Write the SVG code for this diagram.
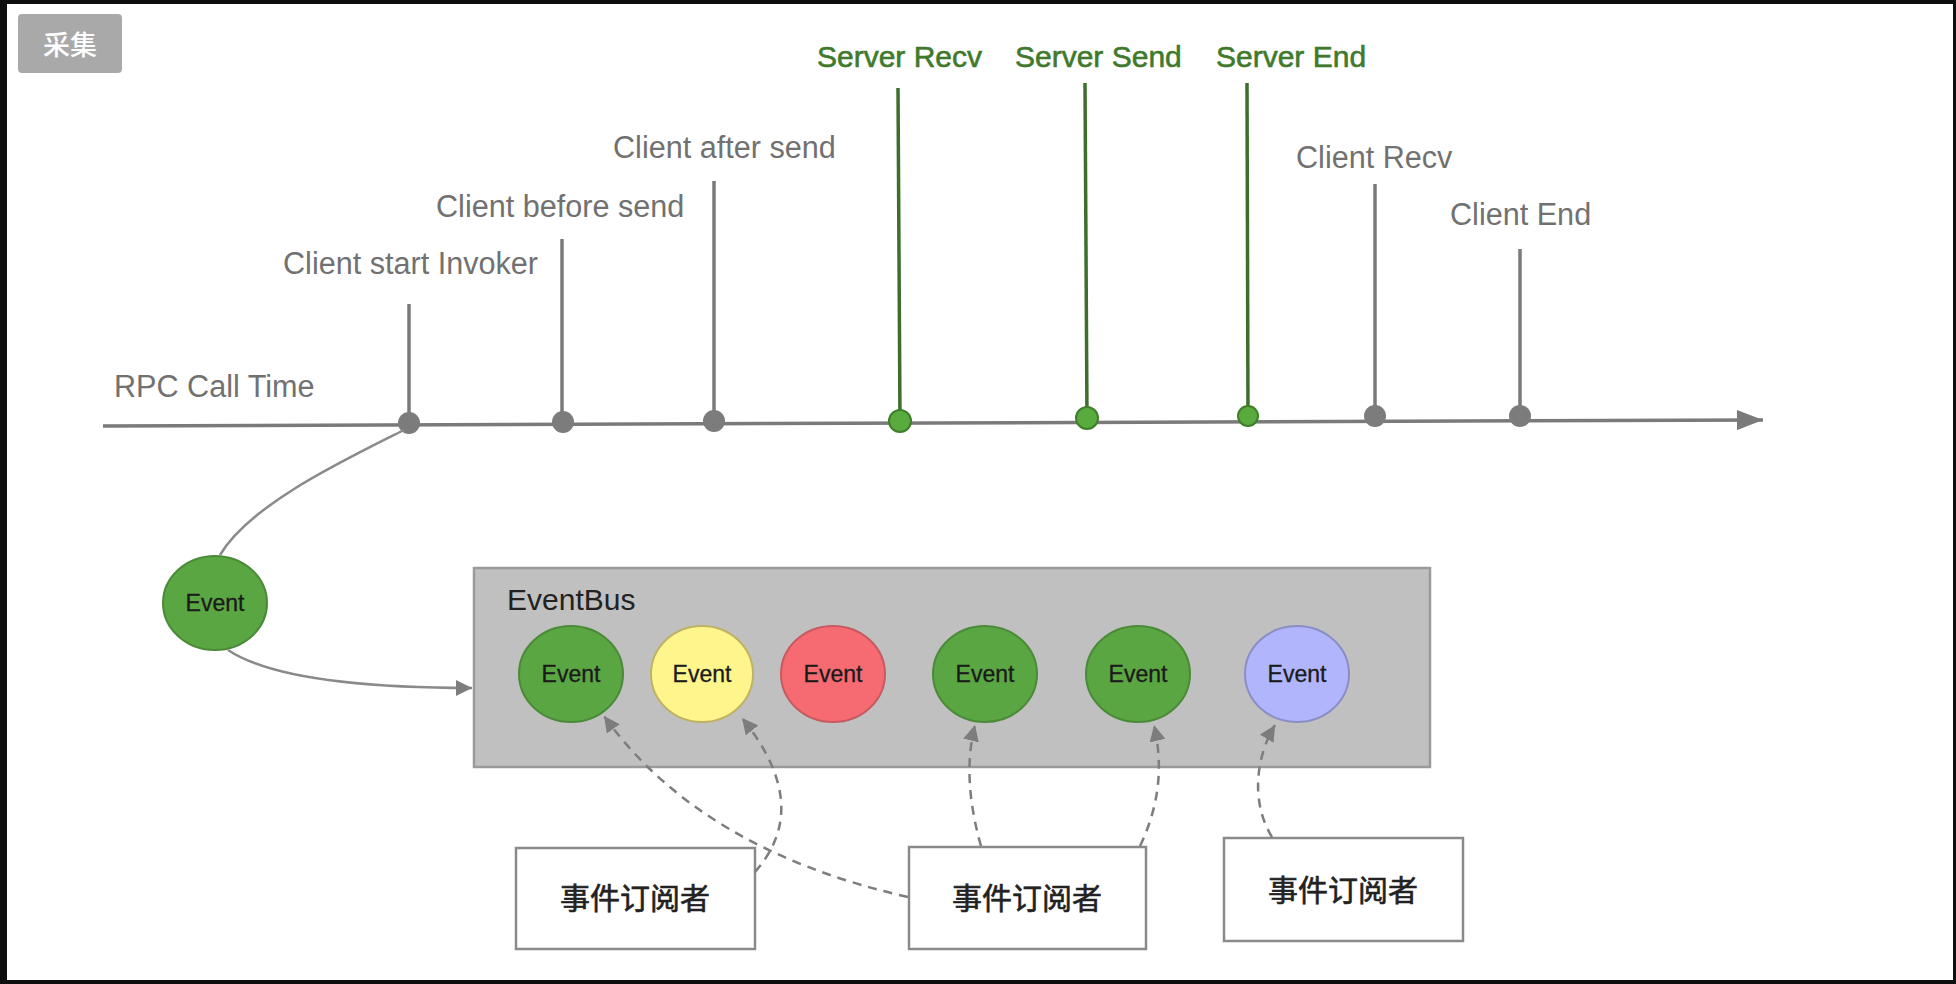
<svg xmlns="http://www.w3.org/2000/svg" width="1956" height="984" viewBox="0 0 1956 984">
<defs>
<style>
.lbl{font-family:"Liberation Sans",Arial,sans-serif;font-size:30.6px;fill:#717171}
.srv{font-family:"Liberation Sans",Arial,sans-serif;font-size:30px;fill:#3f7a2c;stroke:#3f7a2c;stroke-width:0.6}
.tick{stroke:#7a7a7a;stroke-width:3.5}
.stick{stroke:#3d6e2c;stroke-width:3.5}
.dot{fill:#7c7c7c}
.sdot{fill:#5aab3e;stroke:#3f7e2a;stroke-width:2}
.ev{font-family:"Liberation Sans",Arial,sans-serif;font-size:23px;fill:#1a1a1a;text-anchor:middle;stroke:#1a1a1a;stroke-width:0.3}
.sub{fill:#fff;stroke:#8a8a8a;stroke-width:2.5}
.subt{font-family:"Liberation Sans","Noto Sans CJK SC",sans-serif;font-size:30px;fill:#222;text-anchor:middle;stroke:#222;stroke-width:0.6}
.dash{fill:none;stroke:#7d7d7d;stroke-width:2.5;stroke-dasharray:9 7}
.solid{fill:none;stroke:#8a8a8a;stroke-width:2.5}
.green{fill:#5aa642;stroke:#4a8a38;stroke-width:2}
</style>
<marker id="ah" viewBox="0 0 10 10" refX="10" refY="5" markerWidth="16" markerHeight="16" markerUnits="userSpaceOnUse" orient="auto">
<path d="M0,0 L10,5 L0,10 Z" fill="#7d7d7d"/>
</marker>
<marker id="ax" viewBox="0 0 10 10" refX="10" refY="5" markerWidth="26" markerHeight="20" markerUnits="userSpaceOnUse" orient="auto" preserveAspectRatio="none">
<path d="M0,0 L10,5 L0,10 Z" fill="#7a7a7a"/>
</marker>
</defs>
<rect x="0" y="0" width="1956" height="984" fill="#0e0e0e"/>
<rect x="7" y="4" width="1946" height="976" fill="#ffffff"/>

<g id="btn-collect">
<rect x="18" y="14" width="104" height="59" rx="4" fill="#a9a9a9"/>
<text x="70" y="55" font-family="'Noto Sans CJK SC',sans-serif" font-size="27" font-weight="500" fill="#ffffff" text-anchor="middle">采集</text>
</g>

<g id="timeline">
<line x1="103" y1="426" x2="1763" y2="420" stroke="#7a7a7a" stroke-width="3.5" marker-end="url(#ax)"/>
<text class="lbl" x="114" y="397">RPC Call Time</text>
</g>

<g id="t-client-start">
<line class="tick" x1="409" y1="304" x2="409" y2="423"/>
<circle class="dot" cx="409" cy="423" r="11"/>
<text class="lbl" x="283" y="274">Client start Invoker</text>
</g>
<g id="t-client-before">
<line class="tick" x1="562" y1="239" x2="562" y2="422"/>
<circle class="dot" cx="563" cy="422" r="11"/>
<text class="lbl" x="436" y="217">Client before send</text>
</g>
<g id="t-client-after">
<line class="tick" x1="714" y1="181" x2="714" y2="421"/>
<circle class="dot" cx="714" cy="421" r="11"/>
<text class="lbl" x="613" y="158">Client after send</text>
</g>
<g id="t-server-recv">
<line class="stick" x1="898" y1="88" x2="900" y2="421"/>
<circle class="sdot" cx="900" cy="421" r="11"/>
<text class="srv" x="817" y="67">Server Recv</text>
</g>
<g id="t-server-send">
<line class="stick" x1="1085" y1="83" x2="1087" y2="418"/>
<circle class="sdot" cx="1087" cy="418" r="11"/>
<text class="srv" x="1015" y="67">Server Send</text>
</g>
<g id="t-server-end">
<line class="stick" x1="1247" y1="83" x2="1248" y2="416"/>
<circle class="sdot" cx="1248" cy="416" r="10"/>
<text class="srv" x="1216" y="67">Server End</text>
</g>
<g id="t-client-recv">
<line class="tick" x1="1375" y1="184" x2="1375" y2="416"/>
<circle class="dot" cx="1375" cy="416" r="11"/>
<text class="lbl" x="1296" y="168">Client Recv</text>
</g>
<g id="t-client-end">
<line class="tick" x1="1520" y1="249" x2="1520" y2="416"/>
<circle class="dot" cx="1520" cy="416" r="11"/>
<text class="lbl" x="1450" y="225">Client End</text>
</g>

<g id="event-src">
<ellipse class="green" cx="215" cy="603" rx="52" ry="47"/>
<text class="ev" x="215" y="611">Event</text>
</g>

<g id="eventbus">
<rect x="474" y="568" width="956" height="199" fill="#c0c0c0" stroke="#9a9a9a" stroke-width="2.5"/>
<text x="507" y="610" font-family="'Liberation Sans',Arial,sans-serif" font-size="30" fill="#222">EventBus</text>
</g>
<g id="ev1"><ellipse class="green" cx="571" cy="674" rx="52" ry="48"/><text class="ev" x="571" y="682">Event</text></g>
<g id="ev2"><ellipse cx="702" cy="674" rx="51" ry="48" fill="#fef58c" stroke="#bfb262" stroke-width="2"/><text class="ev" x="702" y="682">Event</text></g>
<g id="ev3"><ellipse cx="833" cy="674" rx="52" ry="48" fill="#f66b72" stroke="#c65a60" stroke-width="2"/><text class="ev" x="833" y="682">Event</text></g>
<g id="ev4"><ellipse class="green" cx="985" cy="674" rx="52" ry="48"/><text class="ev" x="985" y="682">Event</text></g>
<g id="ev5"><ellipse class="green" cx="1138" cy="674" rx="52" ry="48"/><text class="ev" x="1138" y="682">Event</text></g>
<g id="ev6"><ellipse cx="1297" cy="674" rx="52" ry="48" fill="#b1b5fb" stroke="#8a8ec4" stroke-width="2"/><text class="ev" x="1297" y="682">Event</text></g>

<g id="sub-a"><rect class="sub" x="516" y="848" width="239" height="101"/><text class="subt" x="635" y="909">事件订阅者</text></g>
<g id="sub-b"><rect class="sub" x="909" y="847" width="237" height="102"/><text class="subt" x="1027" y="909">事件订阅者</text></g>
<g id="sub-c"><rect class="sub" x="1224" y="838" width="239" height="103"/><text class="subt" x="1343" y="901">事件订阅者</text></g>

<g id="connectors">
<path class="solid" d="M404,430 C340,462 250,505 220,555"/>
<path class="solid" d="M228,650 Q285,688 472,688" marker-end="url(#ah)"/>
<path class="dash" d="M908,897 Q700,850 604,716" marker-end="url(#ah)"/>
<path class="dash" d="M755,872 C792,830 792,780 742,718" marker-end="url(#ah)"/>
<path class="dash" d="M981,846 C968,800 966,760 975,725" marker-end="url(#ah)"/>
<path class="dash" d="M1140,846 C1162,800 1162,760 1154,725" marker-end="url(#ah)"/>
<path class="dash" d="M1272,837 C1252,805 1254,760 1275,725" marker-end="url(#ah)"/>
</g>
</svg>
